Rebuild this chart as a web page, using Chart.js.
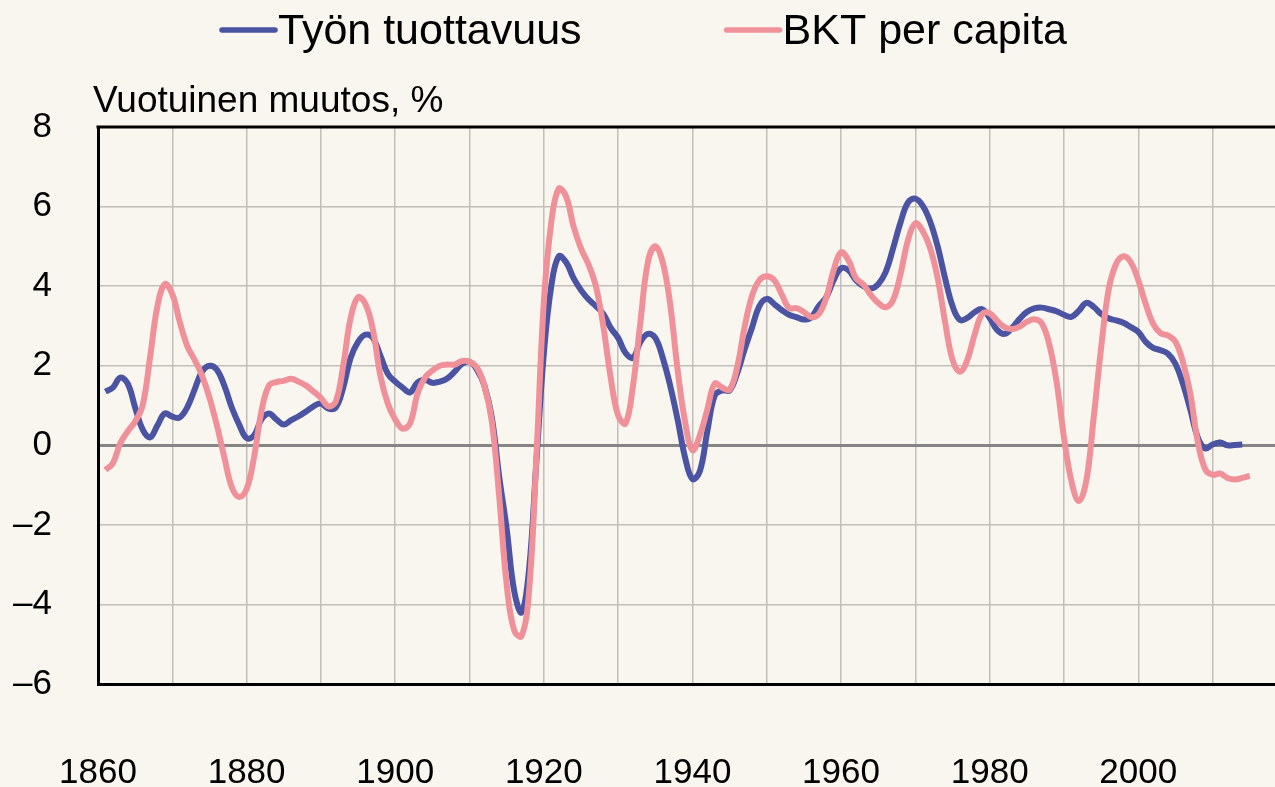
<!DOCTYPE html>
<html>
<head>
<meta charset="utf-8">
<script src="https://cdn.jsdelivr.net/npm/chart.js@4.4.1/dist/chart.umd.min.js"></script>
<style>
  html, body { margin: 0; padding: 0; background: #f9f5ef; }
  #wrap { width: 1275px; height: 787px; }
</style>
</head>
<body>
<div id="wrap"><canvas id="graf" width="1275" height="787"></canvas></div>
<script>
// vuodet (x-akseli)
const years = [
  1861, 1862, 1863, 1864, 1865, 1866, 1867, 1868, 1869, 1870,
  1871, 1872, 1873, 1874, 1875, 1876, 1877, 1878, 1879, 1880,
  1881, 1882, 1883, 1884, 1885, 1886, 1887, 1888, 1889, 1890,
  1891, 1892, 1893, 1894, 1895, 1896, 1897, 1898, 1899, 1900,
  1901, 1902, 1903, 1904, 1905, 1906, 1907, 1908, 1909, 1910,
  1911, 1912, 1913, 1914, 1915, 1916, 1917, 1918, 1919, 1920,
  1921, 1922, 1923, 1924, 1925, 1926, 1927, 1928, 1929, 1930,
  1931, 1932, 1933, 1934, 1935, 1936, 1937, 1938, 1939, 1940,
  1941, 1942, 1943, 1944, 1945, 1946, 1947, 1948, 1949, 1950,
  1951, 1952, 1953, 1954, 1955, 1956, 1957, 1958, 1959, 1960,
  1961, 1962, 1963, 1964, 1965, 1966, 1967, 1968, 1969, 1970,
  1971, 1972, 1973, 1974, 1975, 1976, 1977, 1978, 1979, 1980,
  1981, 1982, 1983, 1984, 1985, 1986, 1987, 1988, 1989, 1990,
  1991, 1992, 1993, 1994, 1995, 1996, 1997, 1998, 1999, 2000,
  2001, 2002, 2003, 2004, 2005, 2006, 2007, 2008, 2009, 2010,
  2011, 2012, 2013, 2014, 2015
];

// Työn tuottavuus, vuotuinen muutos %
const tyonTuottavuus = [
  1.35, 1.45, 1.70, 1.55, 0.95, 0.40, 0.20, 0.50, 0.80, 0.72,
  0.70, 0.95, 1.40, 1.85, 2.00, 1.90, 1.50, 0.95, 0.52, 0.18,
  0.25, 0.65, 0.80, 0.65, 0.52, 0.63, 0.73, 0.85, 0.98, 1.05,
  0.92, 0.95, 1.45, 2.20, 2.60, 2.78, 2.70, 2.25, 1.80, 1.60,
  1.45, 1.33, 1.58, 1.65, 1.57, 1.60, 1.68, 1.85, 2.05, 2.10,
  1.90, 1.50, 0.70, -0.80, -2.10, -3.65, -4.20, -3.15, -0.40, 2.30,
  4.00, 4.75, 4.60, 4.20, 3.90, 3.67, 3.50, 3.30, 2.95, 2.70,
  2.32, 2.20, 2.60, 2.80, 2.70, 2.20, 1.50, 0.65, -0.30, -0.85,
  -0.65, 0.35, 1.25, 1.38, 1.38, 1.80, 2.40, 2.95, 3.50, 3.68,
  3.55, 3.40, 3.28, 3.22, 3.16, 3.22, 3.50, 3.72, 4.15, 4.45,
  4.40, 4.15, 4.00, 3.94, 4.05, 4.35, 4.95, 5.60, 6.10, 6.20,
  6.02, 5.62, 5.00, 4.20, 3.50, 3.15, 3.20, 3.35, 3.42, 3.20,
  2.90, 2.80, 2.95, 3.17, 3.35, 3.44, 3.46, 3.42, 3.37, 3.28,
  3.23, 3.38, 3.58, 3.48, 3.30, 3.19, 3.14, 3.08, 2.97, 2.85,
  2.60, 2.45, 2.39, 2.30, 2.05, 1.55, 0.90, 0.20, -0.08, 0.02,
  0.07, 0.00, 0.01, 0.02
];

// BKT per capita, vuotuinen muutos %
const bktPerCapita = [
  -0.62, -0.45, 0.05, 0.35, 0.60, 1.00, 2.20, 3.50, 4.05, 3.80,
  3.10, 2.50, 2.15, 1.75, 1.20, 0.50, -0.30, -1.05, -1.30, -1.10,
  -0.30, 0.86, 1.50, 1.59, 1.62, 1.67, 1.60, 1.50, 1.35, 1.19,
  0.98, 1.10, 2.00, 3.20, 3.72, 3.55, 2.90, 1.75, 1.05, 0.65,
  0.42, 0.55, 1.30, 1.70, 1.88, 2.00, 2.03, 2.03, 2.12, 2.10,
  1.95, 1.50, 0.60, -1.30, -3.50, -4.65, -4.80, -3.70, -0.30, 3.60,
  5.60, 6.45, 6.25, 5.50, 4.95, 4.55, 4.00, 3.00, 1.70, 0.75,
  0.55, 1.50, 3.10, 4.60, 5.00, 4.60, 3.55, 1.90, 0.60, -0.12,
  0.25, 0.90, 1.55, 1.45, 1.40, 1.95, 2.95, 3.75, 4.15, 4.25,
  4.15, 3.80, 3.45, 3.45, 3.35, 3.22, 3.30, 3.70, 4.40, 4.85,
  4.65, 4.20, 4.04, 3.78, 3.58, 3.47, 3.65, 4.30, 5.15, 5.58,
  5.38, 4.95, 4.20, 3.10, 2.15, 1.85, 2.15, 2.80, 3.30, 3.32,
  3.13, 2.97, 2.92, 2.98, 3.10, 3.17, 3.07, 2.55, 1.60, 0.20,
  -0.90, -1.40, -0.90, 0.70, 2.45, 3.90, 4.55, 4.75, 4.60, 4.15,
  3.55, 3.05, 2.82, 2.76, 2.60, 2.10, 1.30, 0.10, -0.60, -0.74,
  -0.71, -0.82, -0.86, -0.82, -0.77
];

const yTicks = [-6, -4, -2, 0, 2, 4, 6, 8];
const xLabelYears = [1860, 1880, 1900, 1920, 1940, 1960, 1980, 2000];
const yAxisTitle = "Vuotuinen muutos, %";

const FONT = '"Liberation Sans", Arial, sans-serif';
const BG = '#f9f5ef';

function points(vals) {
    return vals.map((v, i) => ({ x: years[i], y: v }));
}

// tausta, legenda, y-akselin otsikko ja yläreuna
const extras = {
    id: 'extras',
    beforeDraw(chart) {
        const c = chart.ctx;
        c.save();
        c.fillStyle = BG;
        c.fillRect(0, 0, chart.width, chart.height);
        c.restore();
    },
    afterDraw(chart) {
        const c = chart.ctx;
        const a = chart.chartArea;
        c.save();
        // yläreuna
        c.strokeStyle = '#000';
        c.lineWidth = 3;
        c.beginPath();
        c.moveTo(a.left - 1.5, a.top);
        c.lineTo(a.right, a.top);
        c.stroke();

        // y-akselin otsikko
        c.fillStyle = '#000';
        c.font = '37px ' + FONT;
        c.textBaseline = 'alphabetic';
        c.textAlign = 'left';
        c.fillText(yAxisTitle, a.left - 5, a.top - 15);

        // legenda
        c.font = '43px ' + FONT;
        let x = 222;
        chart.data.datasets.forEach(ds => {
            c.strokeStyle = ds.borderColor;
            c.lineWidth = 5.5;
            c.lineCap = 'round';
            c.beginPath();
            c.moveTo(x, 30);
            c.lineTo(x + 53, 30);
            c.stroke();
            c.fillStyle = '#000';
            c.fillText(ds.label, x + 56, 44);
            x += 56 + c.measureText(ds.label).width + 145;
        });
        c.restore();
    }
};

const ctx = document.getElementById('graf').getContext('2d');
new Chart(ctx, {
    type: 'line',
    data: {
        datasets: [
            {
                label: 'Työn tuottavuus',
                data: points(tyonTuottavuus),
                borderColor: '#4a54a3',
                borderWidth: 6,
                tension: 0.4,
                fill: false,
                order: 2
            },
            {
                label: 'BKT per capita',
                data: points(bktPerCapita),
                borderColor: '#f0919a',
                borderWidth: 6,
                tension: 0.4,
                fill: false,
                order: 1
            }
        ]
    },
    options: {
        responsive: false,
        animation: false,
        devicePixelRatio: 1,
        layout: { padding: { top: 127, left: 0, right: 0, bottom: 0 } },
        elements: { point: { radius: 0 } },
        plugins: {
            legend: { display: false },
            tooltip: { enabled: false }
        },
        scales: {
            x: {
                type: 'linear',
                min: 1860,
                max: 2018.4,
                afterFit(scale) {
                    scale.height = 103;
                    scale.paddingLeft = 0;
                    scale.paddingRight = 0;
                },
                border: { color: '#000', width: 3 },
                grid: {
                    color: '#c2beb8',
                    lineWidth: 1.5,
                    drawTicks: false
                },
                ticks: {
                    stepSize: 10,
                    includeBounds: false,
                    autoSkip: false,
                    maxRotation: 0,
                    padding: 68,
                    color: '#000',
                    font: { family: FONT, size: 35 },
                    callback: v => xLabelYears.includes(v) ? String(v) : ''
                }
            },
            y: {
                min: yTicks[0],
                max: yTicks[yTicks.length - 1],
                afterFit(scale) {
                    scale.width = 98;
                    scale.paddingTop = 0;
                    scale.paddingBottom = 0;
                },
                border: { color: '#000', width: 3 },
                grid: {
                    color: c => c.tick && c.tick.value === 0 ? '#858585' : '#c2beb8',
                    lineWidth: c => c.tick && c.tick.value === 0 ? 3 : 1.5,
                    drawTicks: false
                },
                ticks: {
                    stepSize: 2,
                    padding: 46,
                    color: '#000',
                    font: { family: FONT, size: 35 },
                    callback: v => yTicks.includes(v) ? (v < 0 ? '\u2013' + (-v) : String(v)) : ''
                }
            }
        }
    },
    plugins: [extras]
});
</script>
</body>
</html>
